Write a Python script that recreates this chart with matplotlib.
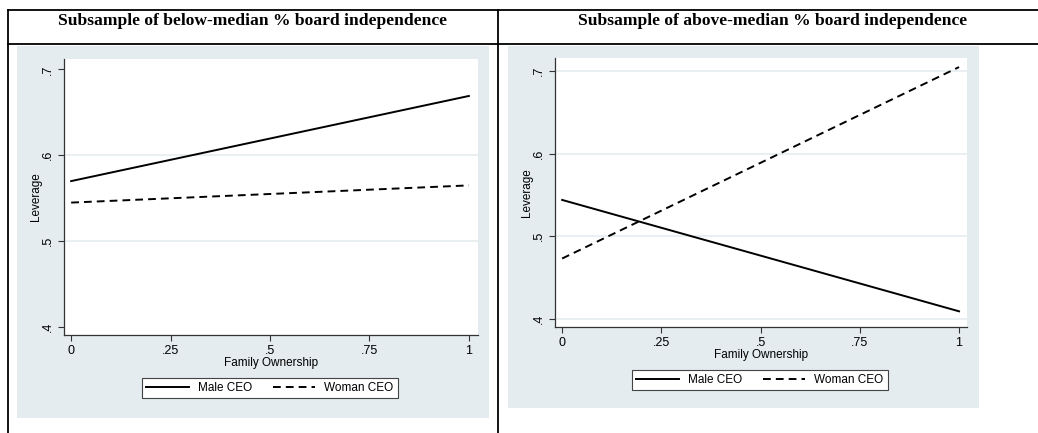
import numpy as np
import matplotlib.pyplot as plt
from matplotlib.lines import Line2D
from matplotlib.patches import Rectangle

# Predicted leverage at family ownership 0 and 1
fam_own = [0, 1]
left_male = [0.570, 0.669]
left_woman = [0.545, 0.565]
right_male = [0.544, 0.409]
right_woman = [0.473, 0.705]

titles = ["Subsample of below-median % board independence",
          "Subsample of above-median % board independence"]
xticks = [0, 0.25, 0.5, 0.75, 1]
xtick_labels = ["0", ".25", ".5", ".75", "1"]
yticks = [0.4, 0.5, 0.6, 0.7]
ytick_labels = [".4", ".5", ".6", ".7"]

W, H = 1038, 433
bg = '#e4ecef'
fig = plt.figure(figsize=(W / 100, H / 100), dpi=100)


def fx(px):
    return px / W


def fy(py):
    return 1 - py / H


# table lines
for (x0, y0, x1, y1) in [(8, 9.5, 1038, 9.5), (8, 44, 1038, 44),
                         (8, 9.5, 8, 433), (498, 9.5, 498, 433)]:
    fig.add_artist(Line2D([fx(x0), fx(x1)], [fy(y0), fy(y1)],
                          color='black', lw=1.3, transform=fig.transFigure))

fig.text(fx(253), fy(21), titles[0], ha='center', va='center',
         family='Liberation Serif', weight='bold', fontsize=12.6)
fig.text(fx(773), fy(21), titles[1], ha='center', va='center',
         family='Liberation Serif', weight='bold', fontsize=12.6)

panels = [
    dict(bg=(17, 46, 489, 418), ax=(64, 59, 478, 335),
         xlim=(-0.018, 1.023), ylim=(0.391, 0.712), grid=[0.5, 0.6],
         male=left_male, woman=left_woman, leg=(270, 388)),
    dict(bg=(508, 46, 979, 408), ax=(555, 58, 967, 327),
         xlim=(-0.018, 1.02), ylim=(0.390, 0.716), grid=[0.4, 0.5, 0.6, 0.7],
         male=right_male, woman=right_woman, leg=(760, 380)),
]

for p in panels:
    bx0, by0, bx1, by1 = p['bg']
    fig.add_artist(Rectangle((fx(bx0), fy(by1)), fx(bx1 - bx0), (by1 - by0) / H,
                             facecolor=bg, edgecolor='none', transform=fig.transFigure,
                             zorder=0))
    ax0, ay0, ax1, ay1 = p['ax']
    ax = fig.add_axes([fx(ax0), fy(ay1), fx(ax1 - ax0), (ay1 - ay0) / H])
    ax.set_facecolor('white')
    for g in p['grid']:
        ax.axhline(g, color='#e6edf0', lw=1.2, zorder=1)
    ax.plot(fam_own, p['male'], color='black', lw=1.4, label='Male CEO', zorder=3)
    ax.plot(fam_own, p['woman'], color='black', lw=1.4, dashes=(4, 2.6),
            label='Woman CEO', zorder=3)
    ax.set_xlim(*p['xlim'])
    ax.set_ylim(*p['ylim'])
    ax.set_xticks(xticks)
    ax.set_xticklabels(xtick_labels, family='Liberation Sans', fontsize=9)
    ax.set_yticks(yticks)
    ax.set_yticklabels(ytick_labels, family='Liberation Sans', fontsize=9,
                       rotation=90, va='center')
    ax.tick_params(direction='out', length=4, width=0.8, colors='#333333',
                   labelcolor='black', pad=3)
    for s in ['top', 'right']:
        ax.spines[s].set_visible(False)
    for s in ['left', 'bottom']:
        ax.spines[s].set_color('#333333')
        ax.spines[s].set_linewidth(0.9)
    ax.set_xlabel('Family Ownership', family='Liberation Sans', fontsize=8.5,
                  labelpad=0)
    ax.set_ylabel('Leverage', family='Liberation Sans', fontsize=8.5, labelpad=0)
    lx, ly = p['leg']
    leg = ax.legend(loc='center', bbox_to_anchor=(fx(lx), fy(ly)),
                    bbox_transform=fig.transFigure, ncol=2, frameon=True,
                    fancybox=False, edgecolor='#444444', framealpha=1,
                    prop={'family': 'Liberation Sans', 'size': 8.5},
                    handlelength=3.6, handletextpad=0.8, columnspacing=1.7,
                    borderpad=0.35, borderaxespad=0)
    leg.get_frame().set_linewidth(0.8)

fig.savefig('out.png', dpi=100)
